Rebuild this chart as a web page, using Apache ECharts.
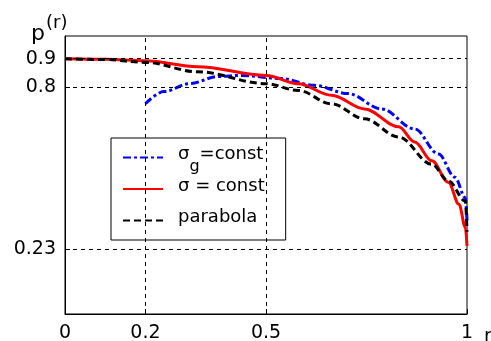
<!DOCTYPE html>
<html>
<head>
<meta charset="utf-8">
<script src="https://cdn.jsdelivr.net/npm/echarts@6/dist/echarts.min.js"></script>
<style>html,body{margin:0;padding:0;background:#fff;}#c{width:491px;height:341px;}</style>
</head>
<body>
<div id="c"></div>
<script>
// Data
var seriesNames = ['σg=const', 'σ = const', 'parabola'];
var rSigmaG = [0.2, 0.246, 0.31, 0.38, 0.4375, 0.5375, 0.62, 0.704, 0.7875, 0.87, 0.929, 0.97, 0.996, 1.0];
var pSigmaG = [0.741, 0.784, 0.812, 0.837, 0.841, 0.83, 0.806, 0.777, 0.723, 0.652, 0.564, 0.482, 0.41, 0.33];
var rSigma = [0, 0.1, 0.2, 0.33, 0.5, 0.58, 0.663, 0.745, 0.83, 0.87, 0.9125, 0.954, 0.98, 0.996, 1.0];
var pSigma = [0.9, 0.898, 0.893, 0.872, 0.841, 0.812, 0.771, 0.723, 0.66, 0.606, 0.54, 0.464, 0.387, 0.305, 0.24];
var rParab = [0, 0.1, 0.2, 0.33, 0.5, 0.58, 0.663, 0.745, 0.83, 0.9125, 0.954, 0.996, 1.0];
var pParab = [0.9, 0.897, 0.887, 0.854, 0.812, 0.788, 0.741, 0.688, 0.624, 0.528, 0.469, 0.398, 0.29];
var xTicks = [0, 0.2, 0.5, 1];
var yTicks = [0.23, 0.8, 0.9];

function pairs(xs, ys) { return xs.map(function (x, i) { return [x, ys[i]]; }); }

var FONT = 'DejaVu Sans';
var chart = echarts.init(document.getElementById('c'), null, {renderer: 'canvas'});
var gridLines = xTicks.filter(function (v) { return v > 0 && v < 1; }).map(function (v) { return {xAxis: v}; })
  .concat(yTicks.map(function (v) { return {yAxis: v}; }));
var CLEAR = 'rgba(0,0,0,0)';

chart.setOption({
  animation: false,
  backgroundColor: '#fff',
  title: {
    text: '{p|p}{s|(r)}',
    left: 26, top: 4,
    textStyle: {
      fontWeight: 'normal',
      rich: {
        p: {fontFamily: FONT, fontSize: 22, fontWeight: 'normal', color: '#000', padding: [14, 0, 0, 0]},
        s: {fontFamily: FONT, fontSize: 18, fontWeight: 'normal', color: '#000', padding: [0, 0, 8, 1]}
      }
    }
  },
  grid: {left: 65, right: 24, top: 36, bottom: 27, containLabel: false, outerBoundsMode: 'none',
    show: true, borderColor: '#000', borderWidth: 1, backgroundColor: '#fff'},
  legend: {
    orient: 'vertical',
    left: 111, top: 138,
    data: seriesNames,
    backgroundColor: '#fff',
    borderColor: '#000', borderWidth: 1,
    padding: [7.5, 21, 1.5, 11],
    itemWidth: 40, itemHeight: 14, itemGap: 1.5,
    itemStyle: {opacity: 0},
    formatter: function (name) {
      if (name === 'σg=const') return '{a|σ}{gap|g}{a|=const}\n{ind|σ}{sub|g}';
      return '{a|' + name + '}\n{ind|σ}';
    },
    textStyle: {
      padding: [0, 0, 0, 10],
      rich: {
        a: {fontFamily: FONT, fontSize: 18, color: '#000', lineHeight: 18},
        gap: {fontFamily: FONT, fontSize: 16, color: CLEAR, lineHeight: 18},
        ind: {fontFamily: FONT, fontSize: 18, color: CLEAR, lineHeight: 6},
        sub: {fontFamily: FONT, fontSize: 16, color: '#000', lineHeight: 6}
      }
    }
  },
  xAxis: {
    type: 'value', min: 0, max: 1,
    name: 'r', nameLocation: 'end', nameGap: 17,
    nameTextStyle: {fontFamily: FONT, fontSize: 19, color: '#000', verticalAlign: 'top', padding: [14, 0, 0, 0]},
    axisLine: {show: true, lineStyle: {color: '#000', width: 1}},
    axisTick: {show: true, inside: true, length: 5, customValues: xTicks, lineStyle: {color: '#000'}},
    axisLabel: {customValues: xTicks, fontFamily: FONT, fontSize: 19, color: '#000', margin: 10,
      formatter: function (v) { return String(v); }},
    splitLine: {show: false}
  },
  yAxis: {
    type: 'value', min: 0, max: 0.98,
    axisLine: {show: true, lineStyle: {color: '#000', width: 1}},
    axisTick: {show: true, inside: true, length: 5, customValues: yTicks, lineStyle: {color: '#000'}},
    axisLabel: {customValues: yTicks, fontFamily: FONT, fontSize: 19, color: '#000', margin: 9,
      formatter: function (v) { return String(v); }},
    splitLine: {show: false}
  },
  series: [
    {
      type: 'line', name: '_grid', data: [], z: 1, silent: true,
      markLine: {
        silent: true, symbol: 'none', label: {show: false}, animation: false,
        lineStyle: {color: '#000', type: [4, 4], width: 1},
        emphasis: {disabled: true},
        data: gridLines
      }
    },
    {
      type: 'line', name: seriesNames[0], data: pairs(rSigmaG, pSigmaG), z: 3,
      showSymbol: false, symbol: 'none', smooth: 0.35, smoothMonotone: 'x',
      lineStyle: {color: '#0000ff', width: 3, type: [8, 3, 3, 3]},
      itemStyle: {color: '#0000ff'}
    },
    {
      type: 'line', name: seriesNames[1], data: pairs(rSigma, pSigma), z: 4,
      showSymbol: false, symbol: 'none', smooth: 0.35, smoothMonotone: 'x',
      lineStyle: {color: '#ff0000', width: 3, type: 'solid'},
      itemStyle: {color: '#ff0000'}
    },
    {
      type: 'line', name: seriesNames[2], data: pairs(rParab, pParab), z: 5,
      showSymbol: false, symbol: 'none', smooth: 0.35, smoothMonotone: 'x',
      lineStyle: {color: '#000', width: 3, type: [7, 4]},
      itemStyle: {color: '#000'}
    }
  ]
});
</script>
</body>
</html>
